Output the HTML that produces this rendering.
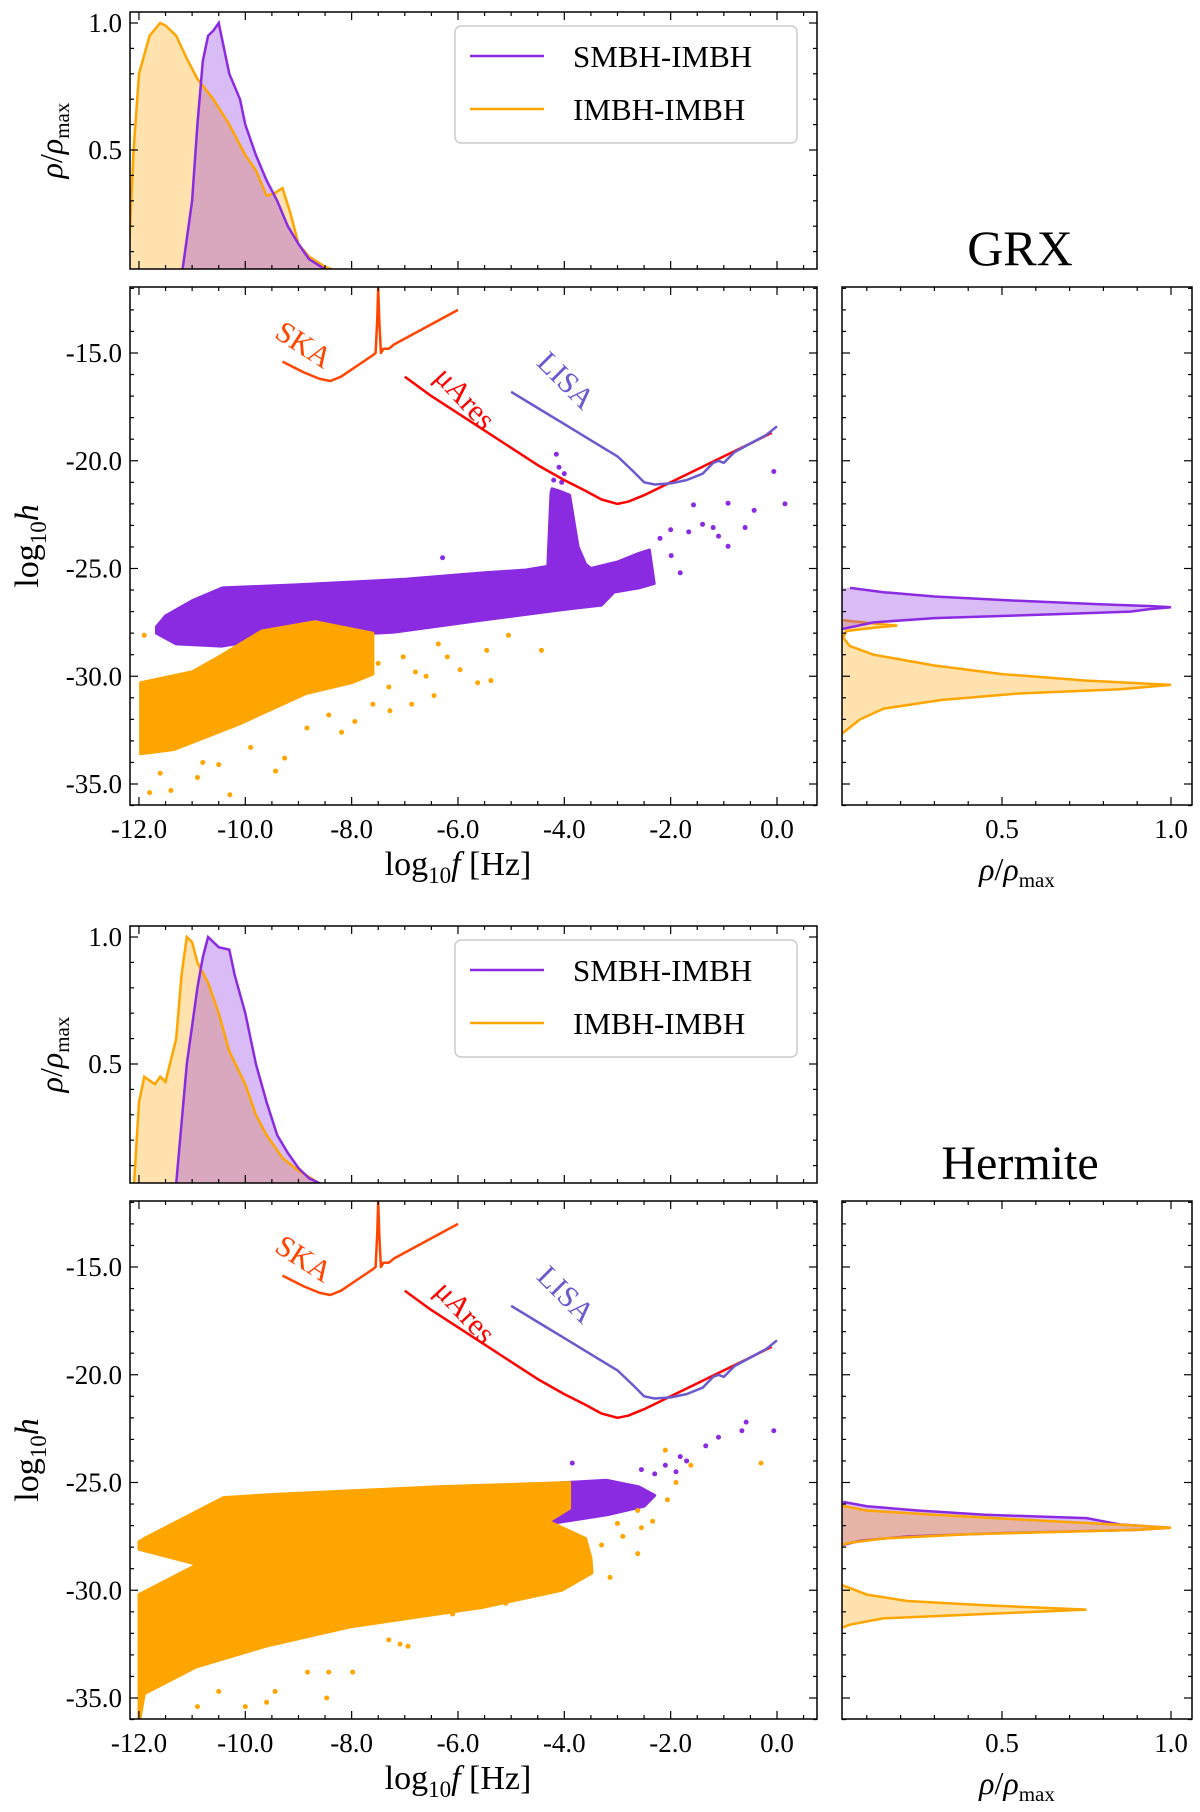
<!DOCTYPE html>
<html><head><meta charset="utf-8">
<style>
html,body{margin:0;padding:0;background:#fff;}
svg{display:block;font-family:"Liberation Serif",serif;}
</style></head>
<body>
<svg id="fig" width="1200" height="1812" viewBox="0 0 1200 1812" xmlns="http://www.w3.org/2000/svg"></svg>
<script>
// ---------- data ----------
const ticksF = [-12,-10,-8,-6,-4,-2,0];
const ticksH = [-15,-20,-25,-30,-35];
const ticksRhoTop = [0.5,1.0];
const ticksRhoRight = [0.5,1.0];
// sensitivity curves [log f, log h]
const skaF = [-9.3,-8.9,-8.6,-8.4,-8.2,-7.9,-7.6,-7.55,-7.52,-7.5,-7.48,-7.45,-7.4,-7.3,-7.2,-6.6,-6.0];
const skaH = [-15.4,-15.9,-16.2,-16.3,-16.1,-15.6,-15.1,-15.0,-13.5,-12.0,-13.5,-15.0,-14.8,-14.8,-14.6,-13.8,-13.0];
const aresF = [-7,-6.5,-6,-5.5,-5,-4.5,-4,-3.6,-3.3,-3.0,-2.8,-2.5,-2,-1.5,-1,-0.5,-0.1];
const aresH = [-16.1,-17.0,-17.8,-18.6,-19.4,-20.2,-20.9,-21.4,-21.8,-22.0,-21.9,-21.6,-21.0,-20.4,-19.8,-19.2,-18.7];
const lisaF = [-5,-4.5,-4,-3.5,-3,-2.7,-2.5,-2.3,-2.0,-1.7,-1.4,-1.2,-1.1,-1.0,-0.8,-0.5,-0.2,0];
const lisaH = [-16.8,-17.55,-18.3,-19.05,-19.8,-20.5,-21.0,-21.1,-21.05,-20.9,-20.6,-20.1,-20.0,-20.1,-19.6,-19.2,-18.8,-18.4];
// GRX scatter envelopes
const grxPurpF = [-11.67,-11.5,-11,-10.43,-9,-7,-5.5,-4.72,-4.31,-4.25,-4.23,-4.1,-3.9,-3.74,-3.6,-3.5,-3.0,-2.6,-2.4,-2.31,-2.6,-3.07,-3.3,-4.0,-5.55,-7.2,-9.69,-10.45,-11.3,-11.67];
const grxPurpH = [-27.7,-27.2,-26.5,-25.9,-25.75,-25.5,-25.2,-25.07,-24.9,-21.5,-21.3,-21.4,-21.6,-24.0,-24.8,-25.0,-24.7,-24.3,-24.14,-25.7,-25.9,-26.1,-26.7,-26.9,-27.4,-27.95,-28.3,-28.6,-28.5,-28.0];
const grxOrF = [-11.97,-11.0,-10.5,-9.69,-8.69,-7.6,-7.6,-8.0,-8.86,-10.1,-11.34,-11.97];
const grxOrH = [-30.3,-29.8,-29.1,-27.9,-27.47,-28.0,-29.9,-30.3,-30.8,-32.2,-33.4,-33.6];
const grxPurpPtsF = [-4.15,-4.1,-4.2,-4.05,-4.0,-1.57,-0.92,-0.43,-0.6,-0.06,0.15,-1.4,-0.92,-1.82,-1.66,-1.99,-6.29,-2.2,-2.0,-1.2,-1.1];
const grxPurpPtsH = [-19.7,-20.3,-20.9,-21.0,-20.6,-22.05,-21.97,-22.3,-23.1,-20.5,-22.0,-22.95,-23.97,-25.2,-23.3,-24.4,-24.5,-23.6,-23.2,-23.1,-23.5];
const grxOrPtsF = [-7.03,-6.37,-6.2,-5.46,-5.05,-4.43,-5.63,-5.38,-6.87,-7.28,-7.94,-8.19,-9.26,-9.43,-10.29,-10.9,-11.4,-11.8,-6.45,-5.96,-7.6,-8.43,-8.84,-9.9,-10.5,-7.3,-6.8,-7.5,-6.6,-10.8,-11.6,-11.9];
const grxOrPtsH = [-29.1,-28.5,-29.1,-28.8,-28.1,-28.8,-30.3,-30.2,-31.3,-31.6,-32.1,-32.6,-33.8,-34.4,-35.5,-34.7,-35.3,-35.4,-30.9,-29.7,-31.3,-31.8,-32.4,-33.3,-34.1,-30.5,-29.8,-29.4,-30.0,-34.0,-34.5,-28.1];
// Hermite scatter envelopes
const herOrF = [-12.0,-11.9,-10.41,-9.45,-6.38,-3.9,-3.9,-4.3,-3.6,-3.5,-3.48,-4.05,-5.55,-8.03,-9.62,-10.93,-11.9,-12.0,-12.0,-10.9,-12.0];
const herOrH = [-27.75,-27.6,-25.7,-25.55,-25.2,-25.0,-26.2,-26.8,-27.6,-28.5,-29.2,-30.0,-30.8,-31.7,-32.6,-33.56,-34.8,-36.2,-30.2,-28.8,-28.1];
const herPurpF = [-5.5,-4.7,-3.2,-2.6,-2.3,-2.5,-3.2,-4.5,-5.5];
const herPurpH = [-25.3,-25.1,-24.9,-25.2,-25.6,-26.1,-26.5,-27.0,-27.3];
const herPurpPtsF = [-0.58,-0.06,-0.66,-1.1,-1.34,-1.82,-2.1,-2.55,-3.85,-1.9,-1.7,-2.3];
const herPurpPtsH = [-22.2,-22.6,-22.6,-22.9,-23.3,-23.8,-24.2,-24.4,-24.1,-24.5,-24.0,-24.6];
const herOrPtsF = [-0.3,-2.1,-1.62,-1.9,-2.06,-2.34,-2.62,-2.55,-3.0,-2.62,-3.14,-7.09,-6.94,-8.47,-7.98,-8.43,-8.83,-9.44,-10.0,-9.6,-10.9,-10.5,-7.3,-6.1,-5.1,-4.7,-4.3,-3.8,-3.3,-2.9];
const herOrPtsH = [-24.1,-23.5,-24.2,-25.0,-25.8,-26.8,-26.3,-27.1,-26.9,-28.3,-29.4,-32.5,-32.6,-35.0,-33.8,-33.8,-33.8,-34.7,-35.4,-35.2,-35.4,-34.7,-32.3,-31.1,-30.6,-30.2,-29.9,-27.8,-27.9,-27.5];
// top KDEs (x = log f, value = rho/rho_max)
const grxTopPurpF = [-11.2,-11.0,-10.9,-10.8,-10.7,-10.6,-10.5,-10.4,-10.3,-10.1,-10.0,-9.8,-9.6,-9.4,-9.2,-9.0,-8.8,-8.5,-8.2];
const grxTopPurpV = [0,0.3,0.6,0.85,0.95,0.97,1.0,0.9,0.8,0.7,0.6,0.48,0.38,0.3,0.2,0.13,0.07,0.03,0];
const grxTopOrF = [-12.2,-12.1,-12.0,-11.8,-11.6,-11.5,-11.3,-11.1,-10.9,-10.6,-10.3,-10.0,-9.8,-9.6,-9.45,-9.3,-9.15,-9.0,-8.8,-8.5,-8.0];
const grxTopOrV = [0.05,0.5,0.8,0.95,1.0,0.99,0.95,0.86,0.78,0.7,0.6,0.48,0.42,0.32,0.33,0.35,0.25,0.13,0.08,0.04,0];
const herTopPurpF = [-11.5,-11.3,-11.1,-11.0,-10.9,-10.8,-10.7,-10.6,-10.5,-10.3,-10.2,-10.0,-9.8,-9.6,-9.4,-9.2,-9.0,-8.8,-8.3];
const herTopPurpV = [0,0.03,0.5,0.65,0.8,0.92,1.0,0.98,0.96,0.95,0.85,0.7,0.5,0.35,0.22,0.15,0.09,0.05,0];
const herTopOrF = [-12.1,-12.0,-11.9,-11.7,-11.6,-11.5,-11.3,-11.2,-11.1,-11.0,-10.9,-10.7,-10.5,-10.3,-10.0,-9.8,-9.6,-9.3,-9.0,-8.6,-8.1];
const herTopOrV = [0,0.35,0.45,0.42,0.45,0.43,0.6,0.85,1.0,0.98,0.9,0.82,0.7,0.55,0.42,0.3,0.22,0.13,0.08,0.03,0];
// right KDEs (y = log h, value = rho/rho_max)
const grxRightPurpH = [-25.9,-26.1,-26.3,-26.5,-26.65,-26.75,-26.8,-26.9,-27.0,-27.1,-27.3,-27.5,-27.7,-27.8,-28.0];
const grxRightPurpV = [0.05,0.15,0.3,0.55,0.78,0.95,1.0,0.93,0.88,0.7,0.3,0.12,0.06,0.03,0];
const grxRightOrH = [-27.4,-27.55,-27.65,-27.75,-27.9,-28.2,-28.6,-29.0,-29.5,-29.9,-30.2,-30.4,-30.6,-30.8,-31.1,-31.5,-32.0,-32.5,-33.0];
const grxRightOrV = [0.03,0.12,0.19,0.12,0.04,0.03,0.05,0.12,0.3,0.5,0.75,1.0,0.85,0.55,0.32,0.15,0.08,0.04,0.0];
const herRightPurpH = [-25.9,-26.1,-26.3,-26.5,-26.65,-26.8,-26.95,-27.05,-27.1,-27.2,-27.35,-27.5,-27.7,-27.9,-28.1];
const herRightPurpV = [0.03,0.1,0.25,0.45,0.75,0.8,0.85,0.95,1.0,0.9,0.5,0.22,0.08,0.03,0];
const herRightOrH = [-26.0,-26.3,-26.5,-26.8,-27.0,-27.1,-27.2,-27.4,-27.6,-27.8,-28.0];
const herRightOrV = [0.0,0.1,0.3,0.65,0.9,1.0,0.9,0.4,0.15,0.05,0];
const herRightOr2H = [-29.6,-29.9,-30.2,-30.5,-30.7,-30.9,-31.1,-31.3,-31.6,-31.9];
const herRightOr2V = [0.0,0.05,0.1,0.22,0.45,0.75,0.45,0.15,0.05,0];

// ---------- drawing ----------
const NS = "http://www.w3.org/2000/svg";
const svg = document.getElementById('fig');
const PURP = "#8a2be2", ORNG = "#ffa500", SKA = "#ff4500", ARES = "#ff0000", LISA = "#6a5acd";
function mk(tag, attrs, parent){ const e=document.createElementNS(NS,tag); for(const k in attrs) e.setAttribute(k,attrs[k]); (parent||svg).appendChild(e); return e; }
function txt(s, x, y, size, anchor, parent, extra){ const t=mk('text',Object.assign({x:x,y:y,'font-size':size,'text-anchor':anchor||'middle',fill:'#000'},extra||{}),parent); t.textContent=s; return t; }

const L = 130, R = 817, RL = 842, RR = 1192;
function fx(f){ return 777 + 53.17*f; }
function pathFrom(xs, ys){ return xs.map((v,i)=>(i?'L':'M')+xs[i].toFixed(1)+' '+ys[i].toFixed(1)).join(' '); }

function drawSet(off, title, isGrx){
  const g = mk('g',{});  
  const mT = 287+off, mB = 805+off, tT = 12+off, tB = 269+off;
  const hy = h => (353+off) - (h+15)*21.55;
  const ty = r => (277+off) - 254*r;
  const rx = r => 1002 + (r-0.5)*338;
  const defs = mk('defs',{},g);
  const cid = 'c'+off;
  const c1 = mk('clipPath',{id:cid+'m'},defs); mk('rect',{x:L,y:mT,width:R-L,height:mB-mT},c1);
  const c2 = mk('clipPath',{id:cid+'t'},defs); mk('rect',{x:L,y:tT,width:R-L,height:tB-tT},c2);
  const c3 = mk('clipPath',{id:cid+'r'},defs); mk('rect',{x:RL,y:mT,width:RR-RL,height:mB-mT},c3);

  // ---- top KDE panel ----
  const top = mk('g',{'clip-path':'url(#'+cid+'t)'},g);
   
  const topSeries = isGrx ? [[grxTopOrF,grxTopOrV,ORNG,0.32],[grxTopPurpF,grxTopPurpV,PURP,0.32]] : [[herTopOrF,herTopOrV,ORNG,0.32],[herTopPurpF,herTopPurpV,PURP,0.32]];
  topSeries.forEach((s,i)=>{
    const xs=s[0].map(fx), ys=s[1].map(ty);
    const d=pathFrom(xs,ys);
    const fill=mk('path',{d:d+' L'+xs[xs.length-1]+' '+tB+' L'+xs[0]+' '+tB+' Z',fill:s[2],'fill-opacity':s[3],stroke:'none'},top);
     
  });
  topSeries.forEach((s,i)=>{
    const ln=mk('path',{d:pathFrom(s[0].map(fx),s[1].map(ty)),fill:'none',stroke:s[2],'stroke-width':2.5},top);
     
  });

  // ---- main scatter ----
  const main = mk('g',{'clip-path':'url(#'+cid+'m)'},g);
   
  function band(F,H,col,name){ const p=mk('path',{d:pathFrom(F.map(fx),H.map(hy))+' Z',fill:col,stroke:col,'stroke-width':3,'stroke-linejoin':'round'},main);   }
  function pts(F,H,col,name){ F.forEach((f,i)=>{ const c=mk('circle',{cx:fx(f),cy:hy(H[i]),r:2.5,fill:col},main);   }); }
  if(isGrx){
    band(grxPurpF,grxPurpH,PURP,'smbh-scatter-band');
    pts(grxPurpPtsF,grxPurpPtsH,PURP,'smbh-scatter-point');
    band(grxOrF,grxOrH,ORNG,'imbh-scatter-band');
    pts(grxOrPtsF,grxOrPtsH,ORNG,'imbh-scatter-point');
  } else {
    band(herPurpF,herPurpH,PURP,'smbh-scatter-band');
    pts(herPurpPtsF,herPurpPtsH,PURP,'smbh-scatter-point');
    band(herOrF,herOrH,ORNG,'imbh-scatter-band');
    pts(herOrPtsF,herOrPtsH,ORNG,'imbh-scatter-point');
  }
  [[skaF,skaH,SKA,'ska-curve'],[aresF,aresH,ARES,'muares-curve'],[lisaF,lisaH,LISA,'lisa-curve']].forEach(s=>{
    const p=mk('path',{d:pathFrom(s[0].map(fx),s[1].map(hy)),fill:'none',stroke:s[2],'stroke-width':2.5,'stroke-linejoin':'round'},main);
     
  });
  const t1=txt('SKA',fx(-9.0),hy(-15.0),30,'middle',main,{fill:SKA,transform:'rotate(33 '+fx(-9.0)+' '+hy(-15.0)+')'});
   
  const t2=txt('μAres',fx(-6.0),hy(-17.4),30,'middle',main,{fill:ARES,transform:'rotate(47 '+fx(-6.0)+' '+hy(-17.4)+')'});
   
  const t3=txt('LISA',fx(-4.1),hy(-16.6),30,'middle',main,{fill:LISA,transform:'rotate(45 '+fx(-4.1)+' '+hy(-16.6)+')'});
   

  // ---- right KDE ----
  const rp = mk('g',{'clip-path':'url(#'+cid+'r)'},g);
   
  const rs = isGrx ? [[grxRightOrH,grxRightOrV,ORNG],[grxRightPurpH,grxRightPurpV,PURP]] : [[herRightOr2H,herRightOr2V,ORNG],[herRightPurpH,herRightPurpV,PURP],[herRightOrH,herRightOrV,ORNG]];
  rs.forEach((s,i)=>{
    const xs=s[1].map(rx), ys=s[0].map(hy);
    const f=mk('path',{d:pathFrom(xs,ys)+' L'+RL+' '+ys[ys.length-1]+' L'+RL+' '+ys[0]+' Z',fill:s[2],'fill-opacity':0.32},rp);
     
    const l=mk('path',{d:pathFrom(xs,ys),fill:'none',stroke:s[2],'stroke-width':2.5},rp);
     
  });

  // ---- frames & ticks ----
  function frame(x0,y0,x1,y1,name){ const r=mk('rect',{x:x0,y:y0,width:x1-x0,height:y1-y0,fill:'none',stroke:'#000','stroke-width':1.5},g);   }
  function xt(x,y0,y1,len){ mk('line',{x1:x,y1:y0,x2:x,y2:y0-len,stroke:'#000','stroke-width':1.2},g); mk('line',{x1:x,y1:y1,x2:x,y2:y1+len,stroke:'#000','stroke-width':1.2},g); }
  function yt(y,x0,x1,len){ mk('line',{x1:x0,y1:y,x2:x0+len,y2:y,stroke:'#000','stroke-width':1.2},g); mk('line',{x1:x1,y1:y,x2:x1-len,y2:y,stroke:'#000','stroke-width':1.2},g); }
  frame(L,tT,R,tB,'top-density-axes'); frame(L,mT,R,mB,'scatter-axes'); frame(RL,mT,RR,mB,'right-density-axes');
  for(let f=-12;f<=0.75;f+=0.5){ const major=Math.abs(f%2)<1e-6; xt(fx(f),mB,mT,major?8:4); xt(fx(f),tB,tT,major?8:4); }
  for(let h=-12;h>=-36;h-=1){ const major=h%5===0; yt(hy(h),L,R,major?8:4); yt(hy(h),RL,RR,major?8:4); }
  for(let r=0.1;r<=1.04;r+=0.1){ const major=Math.abs(r-0.5)<1e-6||Math.abs(r-1)<1e-6; yt(ty(r),L,R,major?8:4); xt(rx(r),mB,mT,major?8:4); }
  ticksF.forEach(f=>{ const t=txt(f.toFixed(1).replace('-0.0','0.0'),fx(f),mB+33,27);   });
  ticksH.forEach(h=>{ const t=txt(h.toFixed(1),L-8,hy(h)+9,27,'end');   });
  ticksRhoTop.forEach(r=>{ const t=txt(r.toFixed(1),L-8,ty(r)+9,27,'end');   });
  ticksRhoRight.forEach(r=>{ const t=txt(r.toFixed(1),rx(r),mB+33,27);   });

  const xl=mk('text',{x:fx(-6.0),y:mB+70,'font-size':34,'text-anchor':'middle'},g);
  xl.innerHTML='log<tspan font-size="23" dy="8">10</tspan><tspan dy="-8" font-style="italic">f</tspan> [Hz]';
   
  const yl=mk('text',{x:0,y:0,'font-size':34,'text-anchor':'middle',transform:'translate(38 '+((mT+mB)/2)+') rotate(-90)'},g);
  yl.innerHTML='log<tspan font-size="23" dy="8">10</tspan><tspan dy="-8" font-style="italic">h</tspan>';
   
  const tl=mk('text',{x:0,y:0,'font-size':32,'text-anchor':'middle',transform:'translate(62 '+((tT+tB)/2)+') rotate(-90)'},g);
  tl.innerHTML='<tspan font-style="italic">ρ</tspan>/<tspan font-style="italic">ρ</tspan><tspan font-size="21" dy="7">max</tspan>';
   
  const rl=mk('text',{x:1017,y:mB+75,'font-size':32,'text-anchor':'middle'},g);
  rl.innerHTML='<tspan font-style="italic">ρ</tspan>/<tspan font-style="italic">ρ</tspan><tspan font-size="21" dy="7">max</tspan>';
   
  const tt=txt(title,1020,tB-4,isGrx?50:48);
   

  const lg=mk('g',{},g);  
  mk('rect',{x:455,y:tT+14,width:342,height:117,rx:6,fill:'#fff','fill-opacity':0.85,stroke:'#ccc','stroke-width':1.5},lg);
  const e1=mk('line',{x1:470,y1:tT+44,x2:544,y2:tT+44,stroke:PURP,'stroke-width':2.5},lg);  
  txt('SMBH-IMBH',573,tT+55,31,'start',lg);
  const e2=mk('line',{x1:470,y1:tT+97,x2:544,y2:tT+97,stroke:ORNG,'stroke-width':2.5},lg);  
  txt('IMBH-IMBH',573,tT+108,31,'start',lg);
}
drawSet(0,'GRX',true);
drawSet(914,'Hermite',false);
</script>
</body></html>
